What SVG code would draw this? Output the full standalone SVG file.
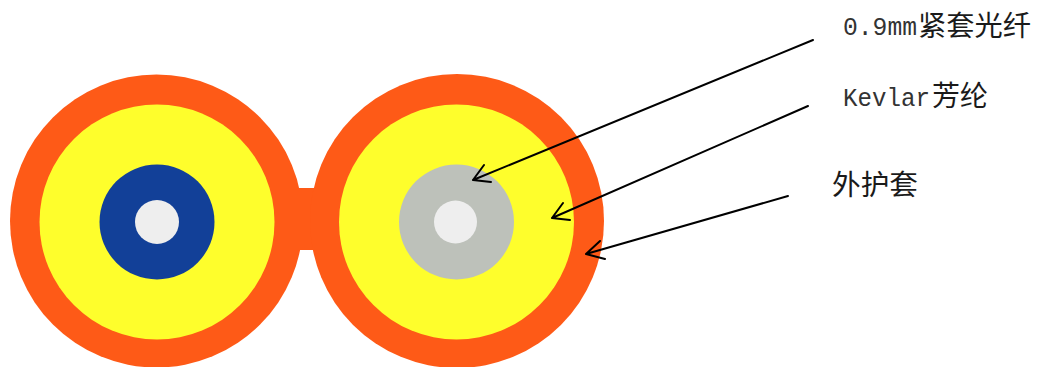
<svg xmlns="http://www.w3.org/2000/svg" width="1042" height="367" viewBox="0 0 1042 367">
<style>
.jacket{fill:#fe5a17}
.kevlar{fill:#fefe2c}
.core{fill:#eeeeee}
.line{fill:none;stroke:#000;stroke-width:2;stroke-linecap:round;stroke-linejoin:round}
text{fill:#1a1a1a;font-family:"Noto Sans CJK SC",sans-serif;font-size:28px;font-weight:400}
.lat{font-family:"Liberation Mono",monospace;font-size:26px;fill:#333}
</style>
<rect width="1042" height="367" fill="#fff"/>
<g id="left-fiber">
<circle class="jacket" cx="156.500" cy="221" r="146.500"/>
<circle class="kevlar" cx="157" cy="222" r="117.500"/>
<circle cx="157" cy="222" r="57.500" fill="#124098"/>
<circle class="core" cx="157" cy="222" r="22"/>
</g>
<g id="bridge"><rect class="jacket" x="280" y="188" width="50" height="62"/></g>
<g id="right-fiber">
<circle class="jacket" cx="457" cy="221" r="147"/>
<circle class="kevlar" cx="456.500" cy="222" r="117.500"/>
<circle cx="456.500" cy="222" r="57.500" fill="#bdc1ba"/>
<circle class="core" cx="455.500" cy="222" r="21.500"/>
</g>
<g id="connectors">
<path class="line" d="M813 40L473 180M484 165L473 180L491 182"/>
<path class="line" d="M808 106L552 218M563 203L552 218L570 220"/>
<path class="line" d="M788 196L586 254M600 241L586 254L605 259"/>
</g>
<g id="label-fiber"><text x="843" y="35" class="lat" textLength="74" lengthAdjust="spacingAndGlyphs">0.9mm</text><text x="918" y="36" textLength="113" lengthAdjust="spacingAndGlyphs">紧套光纤</text></g>
<g id="label-kevlar"><text x="843" y="106" class="lat" textLength="87" lengthAdjust="spacingAndGlyphs">Kevlar</text><text x="932" y="106" textLength="56" lengthAdjust="spacingAndGlyphs">芳纶</text></g>
<g id="label-jacket"><text x="832" y="195" textLength="86" lengthAdjust="spacingAndGlyphs">外护套</text></g>
</svg>
